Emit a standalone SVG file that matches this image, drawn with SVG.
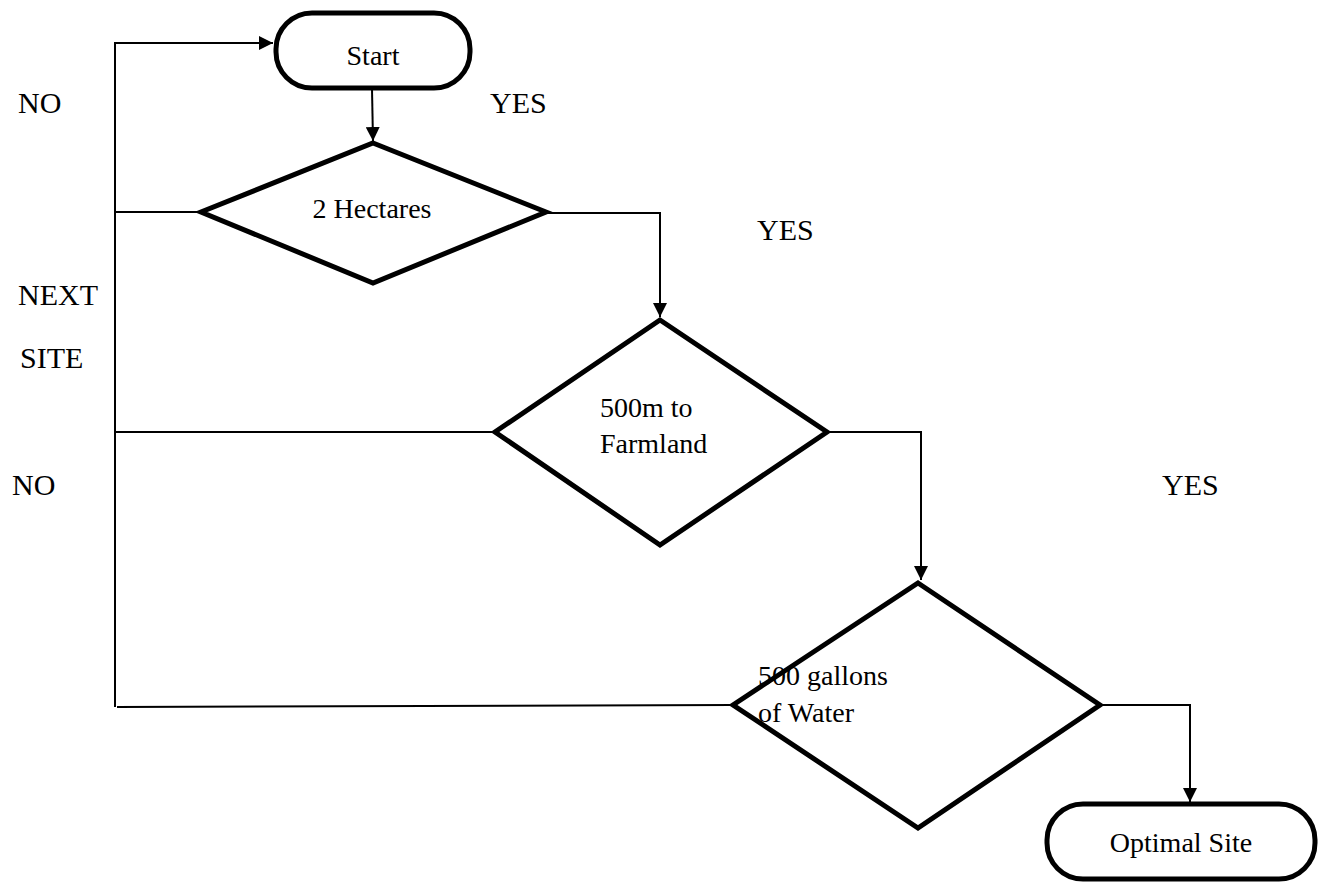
<svg xmlns="http://www.w3.org/2000/svg" width="1325" height="885" viewBox="0 0 1325 885">
<defs>
<marker id="arr" viewBox="0 0 10 10" refX="10" refY="5" markerWidth="14" markerHeight="14" markerUnits="userSpaceOnUse" orient="auto">
<path d="M0,0 L10,5 L0,10 z" fill="#000"/>
</marker>
<style>
.shape{fill:#fff;stroke:#000;stroke-width:5;stroke-linejoin:miter}
.conn{fill:none;stroke:#000;stroke-width:2}
.t{font-family:"Liberation Serif","Times New Roman",serif;font-size:28px;fill:#000}
.lbl{font-family:"Liberation Serif","Times New Roman",serif;font-size:30px;fill:#000}
</style>
</defs>
<rect width="1325" height="885" fill="#fff"/>
<g id="connectors">
<path class="conn" d="M115,707 L115,43 L273,43" marker-end="url(#arr)"/>
<path class="conn" d="M372,89 L373,141" marker-end="url(#arr)"/>
<path class="conn" d="M115,212 L201,212"/>
<path class="conn" d="M547,213 L660,213 L660,317" marker-end="url(#arr)"/>
<path class="conn" d="M115,432 L495,432"/>
<path class="conn" d="M828,432 L921,432 L921,580" marker-end="url(#arr)"/>
<path class="conn" d="M117,707 L733,705"/>
<path class="conn" d="M1100,705 L1190,705 L1190,802" marker-end="url(#arr)"/>
</g>
<g id="start">
<rect class="shape" x="276" y="13" width="194" height="75" rx="36" ry="36"/>
<text class="t" x="373" y="65" text-anchor="middle">Start</text>
</g>
<g id="hectares">
<polygon class="shape" points="373,143 546,212 373,283 201,212"/>
<text class="t" x="372" y="218" text-anchor="middle">2 Hectares</text>
</g>
<g id="farmland">
<polygon class="shape" points="660,320 827,432 660,545 495,432"/>
<text class="t" x="600" y="417">500m to</text>
<text class="t" x="600" y="453">Farmland</text>
</g>
<g id="water">
<polygon class="shape" points="918,583 1100,705 918,828 733,705"/>
<text class="t" x="758" y="685">500 gallons</text>
<text class="t" x="758" y="722">of Water</text>
</g>
<g id="optimal">
<rect class="shape" x="1047" y="804" width="268" height="75" rx="36" ry="36"/>
<text class="t" x="1181" y="852" text-anchor="middle">Optimal Site</text>
</g>
<g id="labels">
<text class="lbl" x="18" y="113">NO</text>
<text class="lbl" x="490" y="113">YES</text>
<text class="lbl" x="757" y="240">YES</text>
<text class="lbl" x="18" y="305">NEXT</text>
<text class="lbl" x="20" y="368">SITE</text>
<text class="lbl" x="12" y="495">NO</text>
<text class="lbl" x="1162" y="495">YES</text>
</g>
</svg>
